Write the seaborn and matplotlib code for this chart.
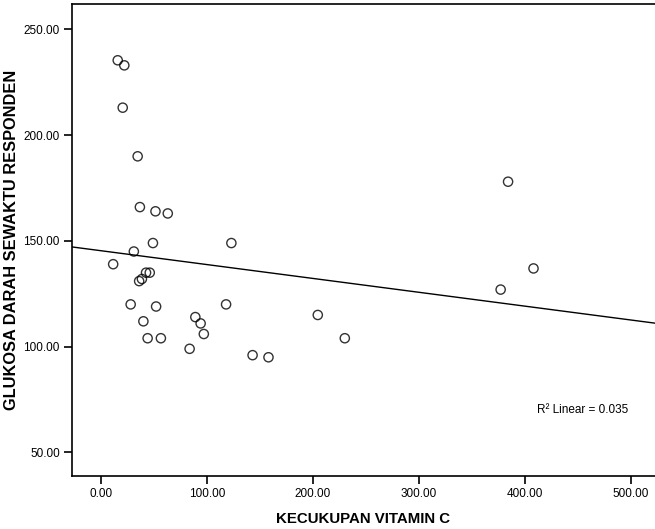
import numpy as np
import pandas as pd
import seaborn as sns
import matplotlib.pyplot as plt
from matplotlib.ticker import FormatStrFormatter

# valeurs
vitamin_c = [15.8, 22, 20.5, 34.6, 36.7, 51.4, 63, 49, 123, 31, 11.5, 42.5, 46,
             36, 38.6, 28, 52, 118, 40, 89, 94, 97, 44, 56.5, 83.6, 143, 158,
             204.5, 230, 384, 408, 377]
glukosa = [235.4, 233, 213, 190, 166, 164, 163, 149, 149, 145, 139, 135, 135,
           131, 132, 120, 119, 120, 112, 114, 111, 106, 104, 104, 99, 96, 95,
           115, 104, 178, 137, 127]
x_ticks = [0, 100, 200, 300, 400, 500]
y_ticks = [50, 100, 150, 200, 250]

df = pd.DataFrame({'vitc': vitamin_c, 'glu': glukosa})

sns.set_style('white')
plt.rcParams['font.family'] = ['Liberation Sans', 'DejaVu Sans']
plt.rcParams['text.color'] = 'black'
plt.rcParams['xtick.color'] = 'black'
plt.rcParams['ytick.color'] = 'black'
plt.rcParams['axes.labelcolor'] = 'black'

fig = plt.figure(figsize=(6.55, 5.29), dpi=100)
ax = fig.add_axes([0.1095, 0.1007, 0.8905, 0.8917])
ax.set_xlim(-27.6, 522.6)

sns.regplot(data=df, x='vitc', y='glu', ax=ax, ci=None, truncate=False,
            marker='o',
            scatter_kws=dict(s=44, facecolors='none', edgecolors='black', linewidths=1),
            line_kws=dict(color='black', linewidth=1))

ax.set_xlim(-27.6, 522.6)
ax.set_ylim(39.0, 262.0)
ax.set_xticks(x_ticks)
ax.set_yticks(y_ticks)
ax.xaxis.set_major_formatter(FormatStrFormatter('%.2f'))
ax.yaxis.set_major_formatter(FormatStrFormatter('%.2f'))
ax.tick_params(axis='both', direction='out', length=5.5, width=1.2, color='black',
               labelsize=8.5, pad=3, bottom=True, left=True)

ax.spines['right'].set_visible(False)
for side in ['left', 'bottom', 'top']:
    ax.spines[side].set_color('black')
    ax.spines[side].set_linewidth(1.2)

ax.set_xlabel('KECUKUPAN VITAMIN C', fontsize=10.8, fontweight='bold', labelpad=9)
ax.set_ylabel('GLUKOSA DARAH SEWAKTU RESPONDEN', fontsize=11.8, fontweight='bold', labelpad=3.5)

ax.text(0.798, 0.139, 'R² Linear = 0.035', transform=ax.transAxes,
        fontsize=8.5, va='center', ha='left')

fig.savefig('out.png', dpi=100)
